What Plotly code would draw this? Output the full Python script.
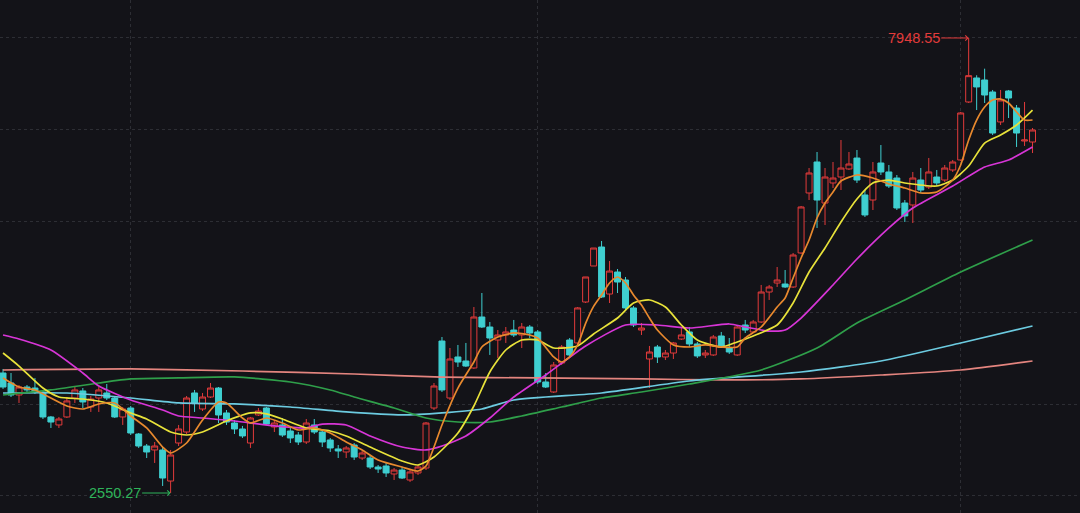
import plotly.graph_objects as go

# ---------------- candle data (daily OHLC) ----------------
opens = [4100, 3971, 3816, 3919, 3906, 3855, 3532, 3429, 3532, 3777,
         3868, 3661, 3777, 3842, 3777, 3532, 3648, 3312, 3157, 3106,
         3106, 2705, 3196, 3338, 3842, 3635, 3790, 3906, 3584, 3454,
         3377, 3196, 3558, 3648, 3403, 3429, 3351, 3299, 3209, 3429,
         3338, 3235, 3119, 3080, 3170, 3002, 3002, 2886, 2899, 2796,
         2847, 2718, 2809, 2873, 3648, 4513, 3777, 4307, 4255, 4165,
         4823, 4694, 4526, 4591, 4655, 4591, 4694, 4630, 3984, 3855,
         4229, 4526, 4488, 5017, 5482, 5727, 5120, 5404, 5301, 4940,
         4655, 4281, 4436, 4307, 4358, 4539, 4630, 4475, 4333, 4333,
         4578, 4423, 4333, 4720, 4630, 4759, 5146, 5262, 5249, 5211,
         5650, 6425, 6825, 6295, 6554, 6631, 6735, 6876, 6399, 6334,
         6812, 6696, 6618, 6295, 6270, 6592, 6502, 6631, 6592, 6722,
         6851, 7600, 7910, 7884, 7729, 7342, 7742, 7522, 7096, 7083]
highs = [4152, 4100, 3945, 3945, 4036, 3881, 3545, 3532, 3790, 3932,
         3906, 3803, 3919, 3958, 3803, 3661, 3674, 3325, 3183, 3209,
         3144, 3106, 3429, 3803, 3881, 3842, 3971, 3919, 3622, 3493,
         3416, 3532, 3648, 3661, 3493, 3519, 3390, 3338, 3506, 3506,
         3364, 3261, 3170, 3157, 3196, 3093, 3041, 2912, 2938, 2873,
         2886, 2847, 2912, 3467, 3971, 4565, 4423, 4462, 4488, 4952,
         5133, 4759, 4655, 4694, 4785, 4746, 4720, 4655, 4100, 4242,
         4462, 4552, 4952, 5340, 5714, 5805, 5546, 5443, 5340, 4965,
         4746, 4449, 4462, 4397, 4501, 4694, 4694, 4501, 4397, 4591,
         4630, 4552, 4720, 4785, 4785, 5237, 5237, 5469, 5430, 5650,
         6257, 6747, 6954, 6747, 6825, 7109, 6954, 6980, 6463, 6825,
         7044, 6786, 6657, 6334, 6696, 6747, 6877, 6722, 6786, 6851,
         7471, 7948.55, 7945, 8030, 7755, 7755, 7755, 7561, 7600, 7264]
lows = [3894, 3790, 3713, 3855, 3829, 3506, 3390, 3390, 3519, 3713,
        3648, 3597, 3597, 3751, 3519, 3429, 3299, 3132, 3002, 2938,
        2641, 2550.27, 3157, 3312, 3597, 3609, 3777, 3454, 3429, 3312,
        3261, 3132, 3545, 3429, 3338, 3274, 3196, 3170, 3183, 3312,
        3144, 3080, 3002, 3002, 2977, 2977, 2860, 2809, 2757, 2718,
        2731, 2693, 2783, 2847, 3622, 3855, 3751, 4178, 4178, 4152,
        4681, 4333, 4294, 4488, 4565, 4423, 4552, 3958, 3906, 3842,
        4203, 4307, 4462, 5004, 5482, 5069, 5004, 5133, 4914, 4694,
        4591, 3906, 4229, 4268, 4281, 4526, 4436, 4294, 4294, 4320,
        4423, 4346, 4320, 4617, 4617, 4746, 5043, 5211, 5198, 5198,
        5637, 6334, 5973, 6011, 6489, 6463, 6722, 6554, 6115, 6205,
        6657, 6489, 6205, 6050, 6037, 6425, 6476, 6515, 6567, 6696,
        6838, 7587, 7496, 7587, 7174, 7303, 7393, 7019, 7032, 6941]
closes = [3919, 3816, 3919, 3881, 3855, 3532, 3467, 3506, 3739, 3881,
          3726, 3764, 3881, 3777, 3532, 3635, 3325, 3157, 3080, 3157,
          2744, 3041, 3377, 3777, 3713, 3790, 3906, 3558, 3467, 3377,
          3287, 3519, 3609, 3441, 3454, 3299, 3261, 3209, 3454, 3338,
          3209, 3132, 3093, 3132, 3015, 3067, 2886, 2860, 2809, 2847,
          2744, 2822, 2886, 3454, 3932, 3881, 4281, 4242, 4190, 4823,
          4694, 4552, 4591, 4630, 4591, 4694, 4617, 3984, 3919, 4203,
          4436, 4333, 4940, 5340, 5714, 5082, 5417, 5275, 4940, 4720,
          4681, 4371, 4307, 4358, 4488, 4591, 4475, 4320, 4358, 4565,
          4436, 4371, 4694, 4655, 4759, 5146, 5211, 5301, 5211, 5624,
          6244, 6683, 6334, 6631, 6618, 6747, 6799, 6592, 6141, 6696,
          6696, 6515, 6231, 6128, 6618, 6463, 6696, 6554, 6747, 6825,
          7458, 7940, 7794, 7690, 7199, 7626, 7651, 7199, 7109, 7238]
days = list(range(len(closes)))

# month boundaries (vertical grid lines), by candle number
month_starts = [16, 67, 120]

# ---------------- moving averages (read at sampled candles) ----------------
ma5_x = [0, 2, 4, 6, 8, 10, 12, 14, 16, 18, 20, 21, 23, 25, 27, 28, 30, 31, 33, 35,
         37, 39, 41, 43, 45, 47, 50, 52, 53, 54, 55, 57, 59, 60, 62, 64, 66, 67, 69, 70,
         71, 72, 73, 74, 75, 76, 77, 78, 79, 80, 81, 82, 84, 86, 88, 90, 92, 93, 95, 97,
         98, 99, 100, 101, 102, 103, 104, 105, 107, 109, 111, 113, 115, 117, 119, 120, 121, 122, 123, 124,
         125, 126, 127, 128, 129]
ma5_y = [4036, 3919, 3881, 3777, 3674, 3635, 3700, 3713, 3545, 3390, 3144, 3067, 3196, 3493, 3726, 3713, 3519, 3454, 3519, 3454,
         3364, 3390, 3325, 3209, 3106, 2977, 2886, 2834, 2899, 3144, 3429, 3906, 4242, 4436, 4565, 4617, 4591, 4552, 4307, 4242,
         4307, 4462, 4740, 4960, 5107, 5262, 5340, 5262, 5107, 4978, 4810, 4655, 4462, 4436, 4462, 4436, 4436, 4552, 4694, 4952,
         5069, 5327, 5585, 5818, 6102, 6295, 6438, 6580, 6657, 6618, 6541, 6489, 6425, 6438, 6592, 6786, 7109, 7367, 7535, 7626,
         7638, 7587, 7471, 7367, 7367]

ma10_x = [0, 2, 5, 7, 10, 13, 16, 18, 21, 23, 25, 28, 31, 33, 35, 38, 41, 43, 46, 50,
          52, 54, 57, 59, 61, 63, 65, 67, 69, 72, 74, 77, 79, 81, 83, 85, 87, 90, 92, 94,
          97, 99, 101, 103, 105, 107, 109, 111, 113, 117, 119, 121, 123, 125, 127, 129]
ma10_y = [4358, 4190, 3906, 3790, 3764, 3713, 3584, 3506, 3338, 3299, 3338, 3480, 3584, 3571, 3506, 3390, 3351, 3287, 3144, 2964,
          2912, 3015, 3325, 3674, 4113, 4397, 4526, 4526, 4423, 4449, 4604, 4810, 5004, 5043, 4952, 4720, 4526, 4436, 4501, 4578,
          4720, 5004, 5404, 5715, 6050, 6347, 6554, 6592, 6554, 6515, 6592, 6773, 7070, 7174, 7303, 7496]

ma20_x = [0, 2, 6, 10, 12, 16, 20, 22, 25, 29, 34, 38, 40, 43, 46, 50, 53, 55, 58, 61,
          64, 68, 73, 78, 82, 86, 91, 93, 96, 98, 100, 104, 107, 111, 114, 119, 123, 126, 129]
ma20_y = [4591, 4539, 4397, 4100, 3932, 3751, 3622, 3545, 3519, 3480, 3416, 3390, 3441, 3429, 3287, 3144, 3106, 3157, 3287, 3519,
          3790, 4074, 4449, 4720, 4720, 4681, 4733, 4694, 4642, 4655, 4810, 5237, 5572, 5973, 6231, 6515, 6760, 6851, 7019]

ma60_x = [0, 6, 12, 16, 22, 29, 36, 41, 44, 49, 53, 57, 61, 65, 70, 75, 80, 86, 95, 102,
          107, 113, 120, 129]
ma60_y = [3816, 3881, 3971, 4023, 4036, 4049, 3984, 3881, 3790, 3648, 3519, 3467, 3467, 3545, 3661, 3777, 3855, 3958, 4139, 4423,
          4746, 5043, 5404, 5818]

ma120_x = [0, 8, 16, 22, 29, 36, 43, 50, 55, 60, 64, 75, 86, 100, 110, 120, 129]
ma120_y = [3842, 3842, 3777, 3713, 3700, 3661, 3597, 3558, 3584, 3635, 3751, 3842, 3997, 4113, 4255, 4488, 4707]

ma250_x = [0, 16, 30, 44, 55, 67, 80, 90, 100, 110, 120, 129]
ma250_y = [4139, 4152, 4126, 4087, 4048, 4036, 4023, 4010, 4023, 4074, 4139, 4255]

max_label = "7948.55"
min_label = "2550.27"

# ---------------- styling ----------------
BG = "#131318"
GRID = "#2d2e34"
RED = "#e23b3b"
CYAN = "#3fcfd0"
GREEN_TXT = "#2fb35a"

fig = go.Figure()

fig.add_trace(go.Candlestick(
    x=days, open=opens, high=highs, low=lows, close=closes,
    increasing=dict(line=dict(color=RED, width=1), fillcolor=BG),
    decreasing=dict(line=dict(color=CYAN, width=1), fillcolor=CYAN),
    whiskerwidth=0, hoverinfo="skip", showlegend=False,
))

ma_series = [
    (ma250_x, ma250_y, "#e4857f"),
    (ma120_x, ma120_y, "#6ccbe0"),
    (ma60_x, ma60_y, "#2f9f4a"),
    (ma20_x, ma20_y, "#d735d6"),
    (ma10_x, ma10_y, "#e8e23a"),
    (ma5_x, ma5_y, "#e8892e"),
]
for xs, ys, col in ma_series:
    fig.add_trace(go.Scatter(
        x=xs, y=ys, mode="lines",
        line=dict(color=col, width=1.7, shape="spline", smoothing=0.6),
        hoverinfo="skip", showlegend=False,
    ))

# max / min markers
max_val = float(max_label)
min_val = float(min_label)
idx_max = highs.index(max_val)
idx_min = lows.index(min_val)
label_rise = 478  # vertical lift of the max label above the high (price units)

fig.add_shape(type="line", x0=idx_max, x1=idx_max, y0=max_val + label_rise, y1=max_val,
              xref="x", yref="y", line=dict(color=RED, width=1))
fig.add_annotation(x=idx_max, y=max_val + label_rise, xref="x", yref="y",
                   text=max_label, showarrow=True, ax=-55, ay=0,
                   arrowhead=4, arrowsize=1, arrowwidth=1, arrowcolor=RED,
                   font=dict(color=RED, size=14.5, family="Liberation Sans, Arial"))
fig.add_annotation(x=idx_min, y=min_val, xref="x", yref="y",
                   text=min_label, showarrow=True, ax=-56, ay=0,
                   arrowhead=4, arrowsize=1, arrowwidth=1, arrowcolor=GREEN_TXT,
                   font=dict(color=GREEN_TXT, size=14.5, family="Liberation Sans, Arial"))

fig.update_layout(
    width=1080, height=513,
    margin=dict(l=0, r=0, t=0, b=0),
    paper_bgcolor=BG, plot_bgcolor=BG,
    showlegend=False,
    boxgap=0.1, boxgroupgap=0.17,
    xaxis=dict(range=[-0.38, 134.95], showticklabels=False, zeroline=False,
               rangeslider=dict(visible=False), tickmode="array", tickvals=month_starts,
               showgrid=True, gridcolor=GRID, griddash="dot", gridwidth=1, ticks=""),
    yaxis=dict(range=[2292, 8917], showticklabels=False, zeroline=False,
               tick0=2512, dtick=1183, showgrid=True, gridcolor=GRID,
               griddash="dot", gridwidth=1, ticks=""),
)

fig.write_html("out.html",
               config={"displayModeBar": False, "staticPlot": True},
               post_script="document.body.style.margin='0';document.body.style.background='%s';" % BG)
